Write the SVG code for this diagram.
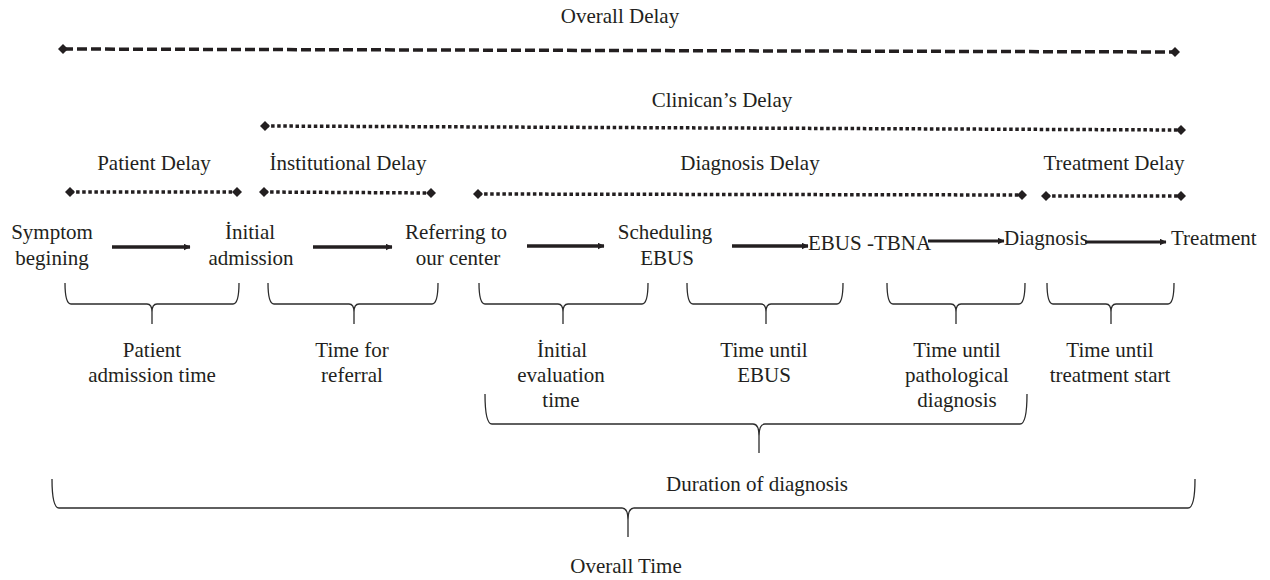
<svg xmlns="http://www.w3.org/2000/svg" width="1270" height="580" viewBox="0 0 1270 580">
<style>
text{font-family:"Liberation Serif","Times New Roman",serif;font-size:21px;fill:#231f20}
.c{text-anchor:middle}
.dash{stroke:#231f20;stroke-width:3.5;fill:none;stroke-dasharray:10 4;marker-start:url(#dia);marker-end:url(#dia)}
.dot{stroke:#231f20;stroke-width:3.5;fill:none;stroke-dasharray:3.5 2.6;marker-start:url(#dia);marker-end:url(#dia)}
.arr{stroke:#231f20;stroke-width:3.6;fill:none;marker-end:url(#ah)}
.arr2{stroke:#231f20;stroke-width:3;fill:none;marker-end:url(#ah)}
.br{stroke:#2b2b2b;stroke-width:1.3;fill:none}
</style>
<defs>
<marker id="dia" viewBox="0 0 10 10" refX="5" refY="5" markerWidth="10" markerHeight="10" markerUnits="userSpaceOnUse" orient="auto"><path d="M0,5 L5,0 L10,5 L5,10 Z" fill="#231f20"/></marker>
<marker id="ah" viewBox="0 0 7 7" refX="6.5" refY="3.5" markerWidth="7" markerHeight="7" markerUnits="userSpaceOnUse" orient="auto"><path d="M0,0 L7,3.5 L0,7 Z" fill="#231f20"/></marker>
</defs>

<g id="delay-labels">
<text class="c" x="620" y="23">Overall Delay</text>
<text class="c" x="722" y="107">Clinican’s Delay</text>
<text class="c" x="154" y="170">Patient Delay</text>
<text class="c" x="348" y="170">İnstitutional Delay</text>
<text class="c" x="750" y="170">Diagnosis Delay</text>
<text class="c" x="1114" y="170">Treatment Delay</text>
</g>

<g id="delay-lines">
<line class="dash" x1="63" y1="49" x2="1175" y2="52"/>
<line class="dot" x1="265" y1="126" x2="1181" y2="130"/>
<line class="dot" x1="70" y1="192" x2="237" y2="192"/>
<line class="dot" x1="264" y1="192" x2="431" y2="193"/>
<line class="dot" x1="478" y1="194" x2="1022" y2="195"/>
<line class="dot" x1="1046" y1="196" x2="1181" y2="196"/>
</g>

<g id="node-symptom"><text class="c" x="52" y="239">Symptom</text><text class="c" x="52" y="265">begining</text></g>
<g id="node-initial"><text class="c" x="250" y="239">İnitial</text><text class="c" x="251" y="265">admission</text></g>
<g id="node-referring"><text class="c" x="456" y="239">Referring to</text><text class="c" x="458" y="265">our center</text></g>
<g id="node-scheduling"><text class="c" x="665" y="239">Scheduling</text><text class="c" x="667" y="265">EBUS</text></g>
<g id="node-ebus"><text x="808" y="250">EBUS -TBNA</text></g>
<g id="node-diagnosis"><text x="1004" y="245">Diagnosis</text></g>
<g id="node-treatment"><text x="1171" y="245">Treatment</text></g>

<g id="connectors">
<line class="arr" x1="112" y1="247" x2="190" y2="247"/>
<line class="arr" x1="313" y1="247" x2="392" y2="247"/>
<line class="arr" x1="527" y1="246" x2="604" y2="246"/>
<line class="arr" x1="732" y1="246" x2="808" y2="246"/>
<line class="arr2" x1="928" y1="241" x2="1004" y2="241"/>
<line class="arr2" x1="1085" y1="242" x2="1166" y2="242"/>
</g>

<g id="braces">
<path class="br" d="M65,283 Q65,304 71,304 L147,304 Q152,304 152,312 L152,324 M152,312 Q152,304 157,304 L233,304 Q239,304 239,283"/>
<path class="br" d="M268,283 Q268,304 274,304 L349,304 Q354,304 354,312 L354,324 M354,312 Q354,304 359,304 L432,304 Q438,304 438,283"/>
<path class="br" d="M479,283 Q479,304 485,304 L558,304 Q563,304 563,312 L563,324 M563,312 Q563,304 568,304 L642,304 Q648,304 648,283"/>
<path class="br" d="M687,283 Q687,304 693,304 L761,304 Q766,304 766,312 L766,324 M766,312 Q766,304 771,304 L837,304 Q843,304 843,283"/>
<path class="br" d="M887,283 Q887,304 893,304 L951,304 Q956,304 956,312 L956,324 M956,312 Q956,304 961,304 L1019,304 Q1025,304 1025,283"/>
<path class="br" d="M1047,283 Q1047,304 1053,304 L1106,304 Q1111,304 1111,312 L1111,324 M1111,312 Q1111,304 1116,304 L1168,304 Q1174,304 1174,283"/>
<path class="br" d="M485,394 Q485,424 492,424 L753,424 Q759,424 759,436 L759,453 M759,436 Q759,424 765,424 L1020,424 Q1027,424 1027,394"/>
<path class="br" d="M52,479 Q52,508 59,508 L622,508 Q628,508 628,520 L628,537 M628,520 Q628,508 634,508 L1188,508 Q1195,508 1195,479"/>
</g>

<g id="interval-labels">
<text class="c" x="152" y="357">Patient</text><text class="c" x="152" y="382">admission time</text>
<text class="c" x="352" y="357">Time for</text><text class="c" x="352" y="382">referral</text>
<text class="c" x="562" y="357">İnitial</text><text class="c" x="561" y="382">evaluation</text><text class="c" x="561" y="407">time</text>
<text class="c" x="764" y="357">Time until</text><text class="c" x="764" y="382">EBUS</text>
<text class="c" x="957" y="357">Time until</text><text class="c" x="957" y="382">pathological</text><text class="c" x="957" y="407">diagnosis</text>
<text class="c" x="1110" y="357">Time until</text><text class="c" x="1110" y="382">treatment start</text>
<text class="c" x="757" y="491">Duration of diagnosis</text>
<text class="c" x="626" y="573">Overall Time</text>
</g>
</svg>
